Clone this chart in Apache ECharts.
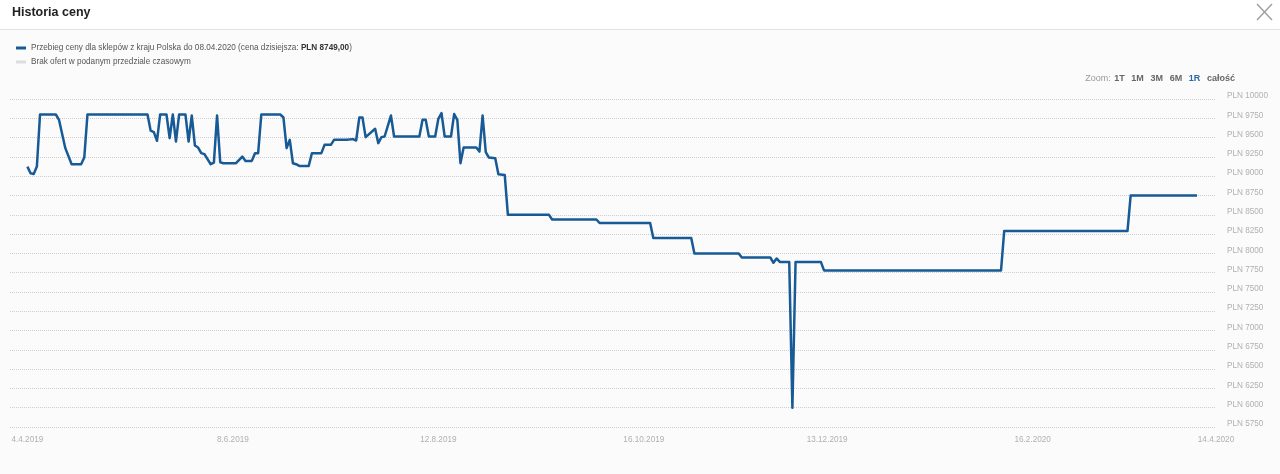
<!DOCTYPE html>
<html>
<head>
<meta charset="utf-8">
<script src="https://cdn.jsdelivr.net/npm/echarts@6/dist/echarts.min.js"></script>
<style>
html,body{margin:0;padding:0;background:#fbfbfb;}
#chart{width:1280px;height:474px;}
</style>
</head>
<body>
<div id="chart"></div>
<script>
// ---- data ----
const dates = [
 '2019-04-04','2019-04-05','2019-04-06','2019-04-07','2019-04-08','2019-04-13','2019-04-14','2019-04-16','2019-04-18','2019-04-21',
 '2019-04-22','2019-04-23','2019-05-12','2019-05-13','2019-05-14','2019-05-15','2019-05-16','2019-05-18','2019-05-19','2019-05-20',
 '2019-05-21','2019-05-22','2019-05-24','2019-05-25','2019-05-26','2019-05-27','2019-05-28','2019-05-29','2019-05-30','2019-06-01',
 '2019-06-02','2019-06-03','2019-06-04','2019-06-05','2019-06-09','2019-06-11','2019-06-12','2019-06-14','2019-06-15','2019-06-16',
 '2019-06-17','2019-06-23','2019-06-24','2019-06-25','2019-06-26','2019-06-27','2019-06-28','2019-06-29','2019-07-02','2019-07-03',
 '2019-07-06','2019-07-07','2019-07-09','2019-07-10','2019-07-14','2019-07-16','2019-07-17','2019-07-18','2019-07-19','2019-07-20',
 '2019-07-23','2019-07-24','2019-07-25','2019-07-26','2019-07-28','2019-07-29','2019-08-06','2019-08-07','2019-08-08','2019-08-09',
 '2019-08-11','2019-08-12','2019-08-13','2019-08-14','2019-08-16','2019-08-17','2019-08-18','2019-08-19','2019-08-20','2019-08-24',
 '2019-08-25','2019-08-26','2019-08-27','2019-08-28','2019-08-30','2019-08-31','2019-09-02','2019-09-03','2019-09-16','2019-09-17',
 '2019-10-01','2019-10-02','2019-10-18','2019-10-19','2019-10-31','2019-11-01','2019-11-15','2019-11-16','2019-11-25','2019-11-26',
 '2019-11-27','2019-11-28','2019-12-01','2019-12-02','2019-12-03','2019-12-11','2019-12-12','2020-02-06','2020-02-07','2020-03-17',
 '2020-03-18','2020-04-08'
];
const prices = [
 9124,9038,9029,9124,9799,9799,9730,9363,9155,9155,
 9241,9799,9799,9590,9571,9458,9799,9799,9493,9799,
 9449,9799,9799,9449,9786,9397,9371,9298,9285,9155,
 9176,9786,9181,9168,9168,9254,9198,9198,9298,9298,
 9799,9799,9760,9363,9471,9168,9155,9133,9133,9298,
 9298,9406,9406,9471,9471,9480,9462,9760,9760,9506,
 9614,9428,9506,9514,9786,9514,9514,9730,9730,9514,
 9514,9743,9818,9514,9514,9805,9730,9168,9371,9371,
 9319,9786,9311,9241,9233,9025,9016,8499,8499,8439,
 8439,8393,8393,8199,8199,7999,7999,7947,7947,7878,
 7934,7889,7889,5999,7889,7889,7779,7779,8289,8289,
 8749,8749
];
const xTickDates = ['2019-04-04','2019-06-08','2019-08-12','2019-10-16','2019-12-13','2020-02-16','2020-04-14'];
const xRange = ['2019-03-29T12:00:00','2020-04-14T00:00:00'];
const yMin = 5750, yMax = 10000, yStep = 250;
const titleText = 'Historia ceny';
const seriesName = 'Przebieg ceny dla sklepów z kraju Polska do 08.04.2020 (cena dzisiejsza: ';
const currentPrice = 'PLN 8749,00';
const noOfferName = 'Brak ofert w podanym przedziale czasowym';

const P = s => new Date(s.length === 10 ? s + 'T00:00:00' : s).getTime();
const FONT = '"Liberation Sans", Arial, sans-serif';
const chart = echarts.init(document.getElementById('chart'), null, {renderer:'canvas'});

chart.setOption({
  animation:false,
  backgroundColor:'#fbfbfb',
  textStyle:{fontFamily:FONT},
  graphic:[
    {type:'rect', shape:{x:0,y:0,width:1280,height:29}, style:{fill:'#ffffff'}, silent:true},
    {type:'line', shape:{x1:0,y1:29.5,x2:1280,y2:29.5}, style:{stroke:'#e2e2e2',lineWidth:1}, silent:true},
    {type:'text', left:12, top:6, style:{text:titleText, font:'bold 12.5px '+FONT, fill:'#222'}},
    {type:'line', shape:{x1:1257,y1:4,x2:1272,y2:20}, style:{stroke:'#a0a0a0',lineWidth:1.5}},
    {type:'line', shape:{x1:1272,y1:4,x2:1257,y2:20}, style:{stroke:'#a0a0a0',lineWidth:1.5}},
    {type:'text', right:45, top:73, style:{
      text:'{z|Zoom:} {b|1T}  {b|1M}  {b|3M}  {b|6M}  {s|1R}  {b|całość}',
      rich:{
        z:{fontSize:9, fill:'#999', fontFamily:FONT},
        b:{fontSize:9, fontWeight:'bold', fill:'#666', fontFamily:FONT},
        s:{fontSize:9, fontWeight:'bold', fill:'#2c6aa0', fontFamily:FONT}
      }
    }}
  ],
  legend:{
    orient:'vertical', left:16, top:43, padding:0, itemWidth:10, itemHeight:3, itemGap:4,
    icon:'rect', selectedMode:false,
    data:[{name:seriesName},{name:noOfferName}],
    formatter: n => n === seriesName ? n + '{b|' + currentPrice + '}' + ')' : n,
    textStyle:{fontSize:8.2, color:'#555', lineHeight:10, fontFamily:FONT,
      rich:{b:{fontSize:8.2, fontWeight:'bold', color:'#333', fontFamily:FONT}}}
  },
  grid:{left:10, right:64, top:99, bottom:47, containLabel:false},
  xAxis:{
    type:'value', min:P(xRange[0]), max:P(xRange[1]),
    axisLine:{show:false}, axisTick:{show:false}, splitLine:{show:false},
    axisLabel:{
      customValues: xTickDates.map(P),
      color:'#b0b0b0', fontSize:8.2, margin:9, fontFamily:FONT,
      showMinLabel:true, showMaxLabel:true,
      formatter: v => { const d = new Date(v); return d.getDate() + '.' + (d.getMonth()+1) + '.' + d.getFullYear(); }
    }
  },
  yAxis:{
    type:'value', position:'right', min:yMin, max:yMax, interval:yStep,
    axisLine:{show:false}, axisTick:{show:false},
    splitLine:{lineStyle:{type:'dotted', color:'#cfcfcf', width:1}},
    axisLabel:{formatter: v => 'PLN ' + v, color:'#b0b0b0', fontSize:8.2, margin:11, fontFamily:FONT,
      verticalAlign:'bottom', lineHeight:6}
  },
  series:[
    {name:seriesName, type:'line', data:dates.map((d,i)=>[P(d), prices[i]]),
     showSymbol:false, symbol:'none', color:'#175a96',
     lineStyle:{width:2.5, color:'#175a96', join:'round'}},
    {name:noOfferName, type:'line', data:[], color:'#dddddd', lineStyle:{color:'#dddddd'}}
  ]
});
</script>
</body>
</html>
